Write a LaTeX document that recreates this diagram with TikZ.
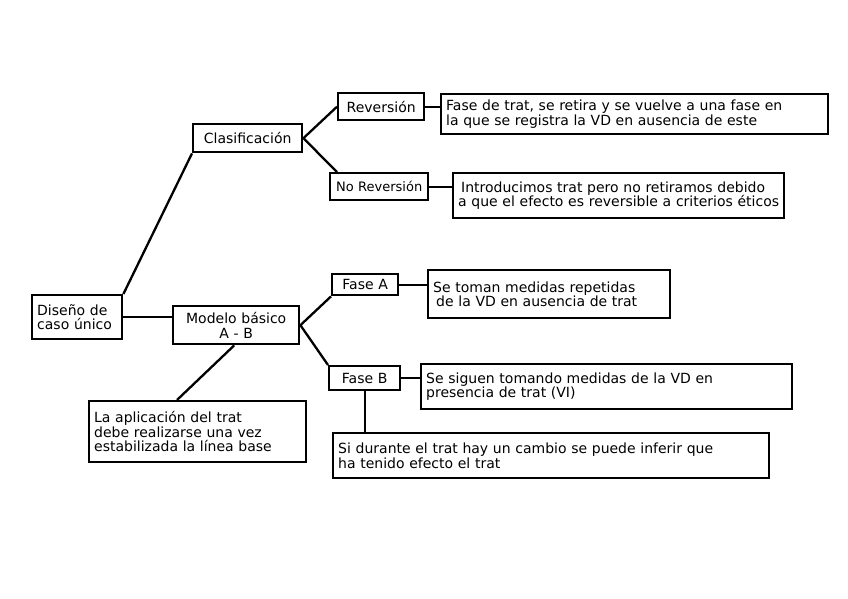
\documentclass[tikz,border=0pt]{standalone}
\usepackage{fontspec}
\setmainfont{DejaVu Sans}
\usetikzlibrary{calc}
\hyphenpenalty=10000
\exhyphenpenalty=10000
\tikzset{
  bx/.style={draw, line width=2.4pt, inner xsep=5pt, inner ysep=0pt, anchor=north west,
    font=\fontsize{14}{14.5}\selectfont},
  ln/.style={line width=2.3pt},
}
% \bxnode{name}{x}{y}{w}{h}{options}{text}
\newcommand{\bxnode}[7]{%
  \pgfmathsetmacro{\tw}{#4-10}%
  \node[bx, text width=\tw pt, minimum width=#4pt, minimum height=#5pt, #6] (#1) at (#2,-#3) {#7};}
\begin{document}
\begin{tikzpicture}[x=1pt,y=1pt]
\useasboundingbox (0,0) rectangle (848,-599);
\fill[white] (0,0) rectangle (848,-599);
\bxnode{dis}{31}{294}{90}{44}{align=left}{Diseño de\\caso único}
\bxnode{cla}{192}{123}{109}{28}{align=center}{Clasificación}
\bxnode{rev}{337}{92}{86}{27}{align=center}{Reversión}
\bxnode{norev}{329}{172}{98}{27}{align=center, inner xsep=2pt, font=\fontsize{13}{14}\selectfont}{No Reversión}
\bxnode{revd}{440}{93}{387}{40}{align=left}{Fase de trat, se retira y se vuelve a una fase en\\la que se registra la VD en ausencia de este}
\bxnode{norevd}{452}{172}{331}{45}{align=left}{\hspace*{3pt}Introducimos trat pero no retiramos debido\\a que el efecto es reversible a criterios éticos}
\bxnode{mod}{172}{305}{126}{38}{align=center}{Modelo básico\\A - B}
\bxnode{fa}{331}{273}{66}{21}{align=center}{Fase A}
\bxnode{fad}{427}{269}{242}{48}{align=left}{Se toman medidas repetidas\\\hspace*{3pt}de la VD en ausencia de trat}
\bxnode{fb}{328}{365}{71}{24}{align=center}{Fase B}
\bxnode{fbd}{420}{363}{371}{45}{align=left}{Se siguen tomando medidas de la VD en\\presencia de trat (VI)}
\bxnode{si}{332}{432}{436}{45}{align=left}{Si durante el trat hay un cambio se puede inferir que\\ha tenido efecto el trat}
\bxnode{apl}{88}{400}{217}{61}{align=left}{La aplicación del trat\\debe realizarse una vez\\estabilizada la línea base}

\draw[ln] (dis.north east) -- (cla.south west);
\draw[ln] (dis.east) -- (dis.east -| mod.west);
\draw[ln] (cla.east) -- (rev.west);
\draw[ln] (cla.east) -- ([xshift=8pt]norev.north west);
\draw[ln] (rev.east) -- (rev.east -| revd.west);
\draw[ln] (norev.east) -- (norev.east -| norevd.west);
\draw[ln] (mod.east) -- (fa.south west);
\draw[ln] (mod.east) -- (fb.north west);
\draw[ln] ([xshift=-2pt]mod.south) -- ([xshift=89pt]apl.north west);
\draw[ln] (fa.east) -- (fa.east -| fad.west);
\draw[ln] (fb.east) -- (fb.east -| fbd.west);
\draw[ln] (fb.south) -- (fb.south |- si.north);
\end{tikzpicture}
\end{document}
